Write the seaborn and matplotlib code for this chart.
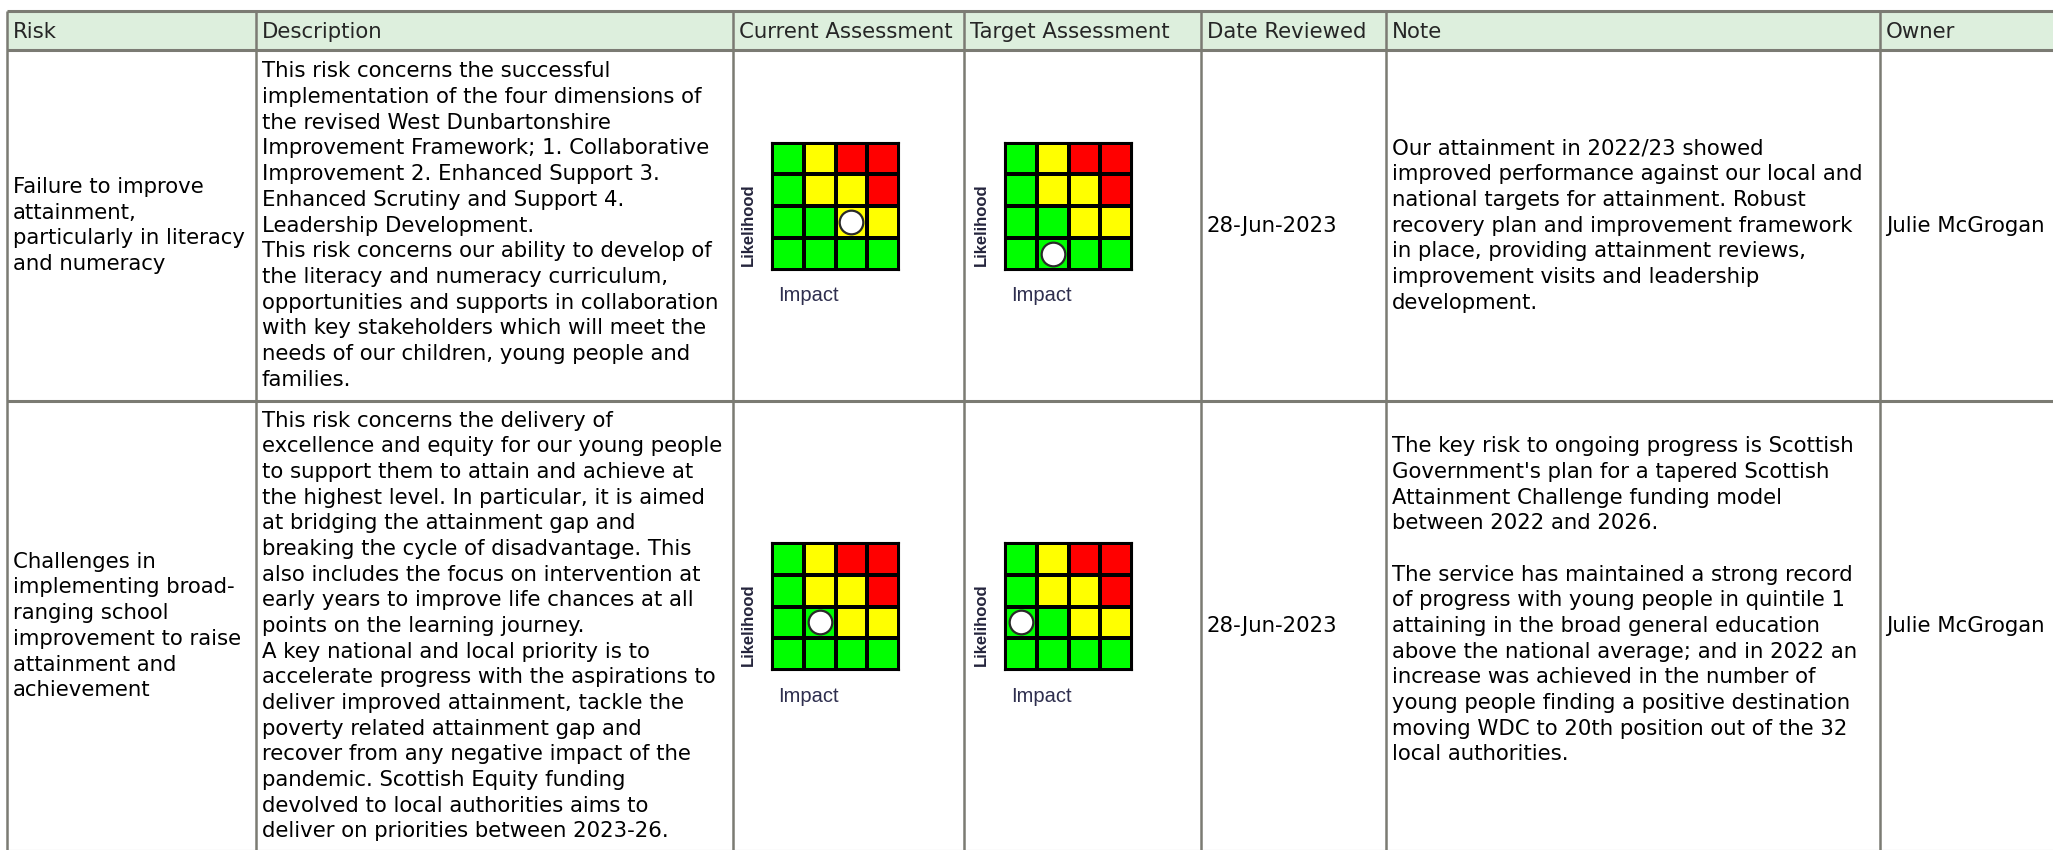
import numpy as np
import matplotlib.pyplot as plt
import seaborn as sns
from matplotlib.colors import ListedColormap
from matplotlib.patches import Rectangle

headers = ["Risk", "Description", "Current Assessment", "Target Assessment",
           "Date Reviewed", "Note", "Owner"]

risks = [
    "Failure to improve\nattainment,\nparticularly in literacy\nand numeracy",
    "Challenges in\nimplementing broad-\nranging school\nimprovement to raise\nattainment and\nachievement",
]

descriptions = [
    "This risk concerns the successful\n"
    "implementation of the four dimensions of\n"
    "the revised West Dunbartonshire\n"
    "Improvement Framework; 1. Collaborative\n"
    "Improvement 2. Enhanced Support 3.\n"
    "Enhanced Scrutiny and Support 4.\n"
    "Leadership Development.\n"
    "This risk concerns our ability to develop of\n"
    "the literacy and numeracy curriculum,\n"
    "opportunities and supports in collaboration\n"
    "with key stakeholders which will meet the\n"
    "needs of our children, young people and\n"
    "families.",
    "This risk concerns the delivery of\n"
    "excellence and equity for our young people\n"
    "to support them to attain and achieve at\n"
    "the highest level. In particular, it is aimed\n"
    "at bridging the attainment gap and\n"
    "breaking the cycle of disadvantage. This\n"
    "also includes the focus on intervention at\n"
    "early years to improve life chances at all\n"
    "points on the learning journey.\n"
    "A key national and local priority is to\n"
    "accelerate progress with the aspirations to\n"
    "deliver improved attainment, tackle the\n"
    "poverty related attainment gap and\n"
    "recover from any negative impact of the\n"
    "pandemic. Scottish Equity funding\n"
    "devolved to local authorities aims to\n"
    "deliver on priorities between 2023-26.",
]

current_impact = [3, 2]
current_likelihood = [2, 2]
target_impact = [2, 1]
target_likelihood = [1, 2]

dates = ["28-Jun-2023", "28-Jun-2023"]

notes = [
    "Our attainment in 2022/23 showed\n"
    "improved performance against our local and\n"
    "national targets for attainment. Robust\n"
    "recovery plan and improvement framework\n"
    "in place, providing attainment reviews,\n"
    "improvement visits and leadership\n"
    "development.",
    "The key risk to ongoing progress is Scottish\n"
    "Government's plan for a tapered Scottish\n"
    "Attainment Challenge funding model\n"
    "between 2022 and 2026.\n"
    "\n"
    "The service has maintained a strong record\n"
    "of progress with young people in quintile 1\n"
    "attaining in the broad general education\n"
    "above the national average; and in 2022 an\n"
    "increase was achieved in the number of\n"
    "young people finding a positive destination\n"
    "moving WDC to 20th position out of the 32\n"
    "local authorities.\n\n",
]

owners = ["Julie McGrogan", "Julie McGrogan"]

# risk bands, top row = highest likelihood (0 green, 1 amber, 2 red)
matrix_bands = [[0, 1, 2, 2],
                [0, 1, 1, 2],
                [0, 0, 1, 1],
                [0, 0, 0, 0]]

sns.set_style("white")
plt.rcParams["font.family"] = ["DejaVu Sans"]

W, H = 2053, 850
col_edges = [7, 256, 733, 964, 1201, 1386, 1880, 2070]
row_edges = [11, 50, 401, 851]
PAD = 6
FS = 15.3
LS = 1.355
MS = 127
border = "#7b7b73"
band_cmap = ListedColormap(["#00ff00", "#ffff00", "#ff0000"])

fig = plt.figure(figsize=(W / 100, H / 100), dpi=100)
ax = fig.add_axes([0, 0, 1, 1])
ax.set_xlim(0, W)
ax.set_ylim(H, 0)
ax.axis("off")

# header band
ax.add_patch(Rectangle((col_edges[0], row_edges[0]), col_edges[-1] - col_edges[0],
                       row_edges[1] - row_edges[0], facecolor="#ddefdd", edgecolor="none"))
for y in row_edges:
    ax.plot([col_edges[0], col_edges[-1]], [y, y], color=border, lw=2.2, solid_capstyle="butt")
for x in col_edges[:-1]:
    ax.plot([x, x], [row_edges[0], row_edges[-1]], color=border, lw=1.8, solid_capstyle="butt")

head_y = (row_edges[0] + row_edges[1]) / 2 + 1
for i, h in enumerate(headers):
    ax.text(col_edges[i] + PAD, head_y, h, fontsize=FS, va="center", ha="left")


def draw_matrix(left, top, impact, likelihood):
    iax = fig.add_axes([left / W, 1 - (top + MS) / H, MS / W, MS / H])
    sns.heatmap(np.array(matrix_bands), cmap=band_cmap, vmin=-0.5, vmax=2.5,
                linewidths=1.5, linecolor="black", cbar=False,
                xticklabels=False, yticklabels=False, ax=iax)
    n = len(matrix_bands)
    iax.scatter([impact - 0.5], [n - likelihood + 0.5], s=290, c="white",
                edgecolors="#2a2a2a", linewidths=1.6, zorder=5)
    for sp in iax.spines.values():
        sp.set_visible(True)
        sp.set_color("black")
        sp.set_linewidth(1.5)
    ax.text(left - 24, top + MS - 4, "Likelihood", rotation=90, ha="center", va="bottom",
            fontsize=12, family="Liberation Sans", fontweight="bold", color="#24243c")
    ax.text(left + 6, top + MS + 26, "Impact", ha="left", va="center",
            fontsize=14.5, family="Liberation Sans", color="#2e2e4e")


for r in range(len(risks)):
    yc = (row_edges[r + 1] + row_edges[r + 2]) / 2
    cells = [risks[r], descriptions[r], None, None, dates[r], notes[r], owners[r]]
    for c, txt in enumerate(cells):
        if txt is None:
            continue
        ax.text(col_edges[c] + PAD, yc, txt, fontsize=FS, va="center", ha="left",
                linespacing=LS, color="black")
    draw_matrix(col_edges[2] + 39, yc - 83, current_impact[r], current_likelihood[r])
    draw_matrix(col_edges[3] + 41, yc - 83, target_impact[r], target_likelihood[r])

fig.savefig("out.png", dpi=100)
